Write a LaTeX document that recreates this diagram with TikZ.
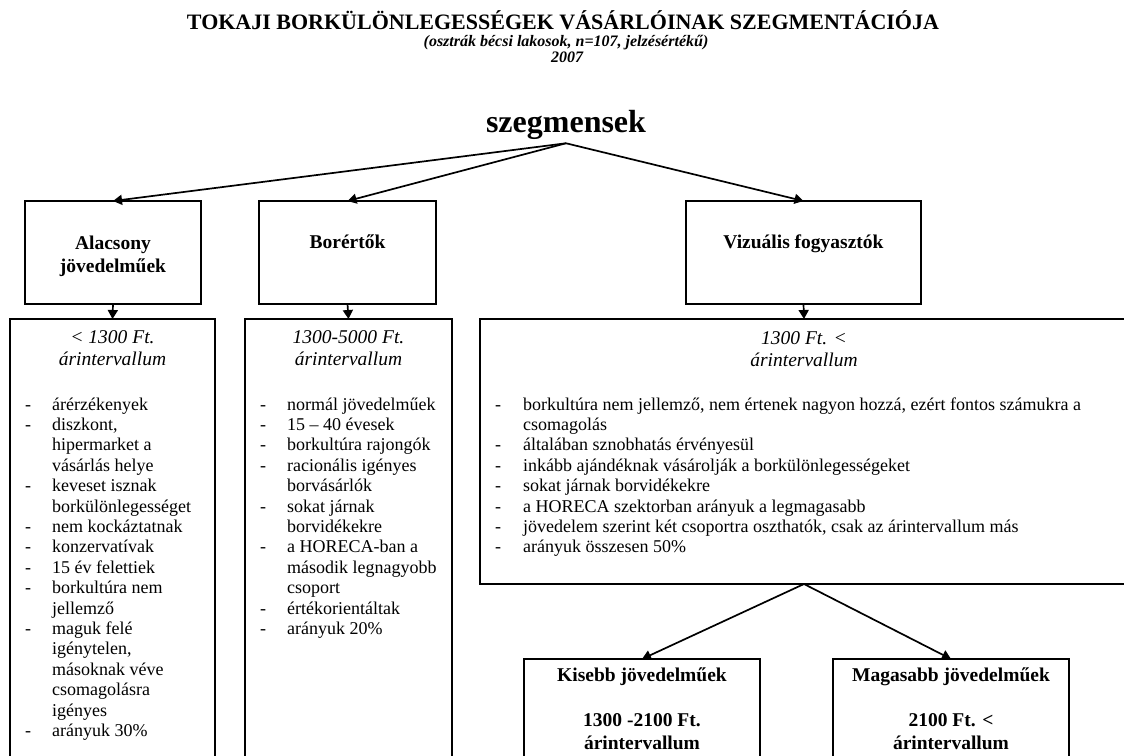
\documentclass[tikz,border=0pt]{standalone}
\usepackage{fontspec}
\setmainfont{Liberation Serif}
\usetikzlibrary{arrows.meta,positioning}

\begin{document}
\begin{tikzpicture}[x=1pt,y=-1pt]
    \tikzstyle{box} = [draw, line width=1.2pt, inner sep=0pt, outer sep=0pt]
    \tikzstyle{boxtitle} = [font=\fontsize{19.5}{22.5}\selectfont\bfseries, align=center, inner sep=0pt, anchor=base]
    \tikzstyle{pricerange} = [font=\fontsize{19.5}{22}\selectfont\itshape, align=center, inner sep=0pt, anchor=base]
    \tikzstyle{items} = [font=\fontsize{18}{20.4}\selectfont, anchor=north west, inner sep=0pt]
    \tikzstyle{link} = [line width=1.7pt, -{Triangle[width=10pt,length=9pt]}]
    \useasboundingbox (0,0) rectangle (1124,755);
    \clip (0,0) rectangle (1124,755);
    % heading
    \node[font=\fontsize{22}{24}\selectfont\bfseries, anchor=base, inner sep=0pt] (title) at (563,29)
        {TOKAJI BORKÜLÖNLEGESSÉGEK VÁSÁRLÓINAK SZEGMENTÁCIÓJA};
    \node[font=\fontsize{16}{17}\selectfont\bfseries\itshape, anchor=base, inner sep=0pt] (sub) at (566,46)
        {(osztrák bécsi lakosok, n=107, jelzésértékű)};
    \node[font=\fontsize{16}{17}\selectfont\bfseries\itshape, anchor=base, inner sep=0pt] (year) at (567,62) {2007};
    \node[font=\fontsize{32}{36}\selectfont\bfseries, anchor=base, inner sep=4pt] (segm) at (566,132) {szegmensek};
    % segments
    \node[box, minimum width=176pt, minimum height=103pt] (alac) at (113,252.5) {};
    \node[box, minimum width=177pt, minimum height=103pt] (borert) at (347.5,252.5) {};
    \node[box, minimum width=235pt, minimum height=103pt] (vizu) at (803.5,252.5) {};
    \node[boxtitle] (alac-t) at (113,272) {Alacsony\\jövedelműek};
    \node[boxtitle] (borert-t) at (347.5,248) {Borértők};
    \node[boxtitle] (vizu-t) at (803.5,248) {Vizuális fogyasztók};
    % descriptions
    \node[box, minimum width=205pt, minimum height=460pt, anchor=north] (lowa) at (112.5,319) {};
    \node[box, minimum width=207pt, minimum height=460pt, anchor=north] (lowb) at (348.5,319) {};
    \node[box, minimum width=648pt, minimum height=265pt, anchor=north] (lowc) at (804,319) {};
    \node[pricerange] (lowa-r) at (112.5,365) {< 1300 Ft.\\árintervallum};
    \node[pricerange] (lowb-r) at (348.5,365) {1300-5000 Ft.\\árintervallum};
    \node[pricerange] (lowc-r) at (804,366) {1300 Ft. <\\árintervallum};
    \node[items] (lowa-l) at (25,395.7) {\begin{tabular}{@{}p{27pt}@{}l@{}}
        - & árérzékenyek\\
        - & diszkont,\\
          & hipermarket a\\
          & vásárlás helye\\
        - & keveset isznak\\
          & borkülönlegességet\\
        - & nem kockáztatnak\\
        - & konzervatívak\\
        - & 15 év felettiek\\
        - & borkultúra nem\\
          & jellemző\\
        - & maguk felé\\
          & igénytelen,\\
          & másoknak véve\\
          & csomagolásra\\
          & igényes\\
        - & arányuk 30\%
        \end{tabular}};
    \node[items] (lowb-l) at (260,395.7) {\begin{tabular}{@{}p{27pt}@{}l@{}}
        - & normál jövedelműek\\
        - & 15 – 40 évesek\\
        - & borkultúra rajongók\\
        - & racionális igényes\\
          & borvásárlók\\
        - & sokat járnak\\
          & borvidékekre\\
        - & a HORECA-ban a\\
          & második legnagyobb\\
          & csoport\\
        - & értékorientáltak\\
        - & arányuk 20\%
        \end{tabular}};
    \node[items] (lowc-l) at (495,395.7) {\begin{tabular}{@{}p{28pt}@{}l@{}}
        - & borkultúra nem jellemző, nem értenek nagyon hozzá, ezért fontos számukra a\\
          & csomagolás\\
        - & általában sznobhatás érvényesül\\
        - & inkább ajándéknak vásárolják a borkülönlegességeket\\
        - & sokat járnak borvidékekre\\
        - & a HORECA szektorban arányuk a legmagasabb\\
        - & jövedelem szerint két csoportra oszthatók, csak az árintervallum más\\
        - & arányuk összesen 50\%
        \end{tabular}};
    % income groups
    \node[box, minimum width=236pt, minimum height=120pt, anchor=north] (kis) at (642,659) {};
    \node[box, minimum width=236pt, minimum height=120pt, anchor=north] (mag) at (951,659) {};
    \node[boxtitle] (kis-t) at (642,749) {Kisebb jövedelműek\\[22.5pt]1300 -2100 Ft.\\árintervallum};
    \node[boxtitle] (mag-t) at (951,749) {Magasabb jövedelműek\\[22.5pt]2100 Ft. <\\árintervallum};
    % arrows
    \draw[link] (segm.south) -- (alac.north);
    \draw[link] (segm.south) -- (borert.north);
    \draw[link] (segm.south) -- (vizu.north);
    \draw[link] (alac.south) -- (lowa.north);
    \draw[link] (borert.south) -- (lowb.north);
    \draw[link] (vizu.south) -- (lowc.north);
    \draw[link] (lowc.south) -- (kis.north);
    \draw[link] (lowc.south) -- (mag.north);
\end{tikzpicture}
\end{document}
